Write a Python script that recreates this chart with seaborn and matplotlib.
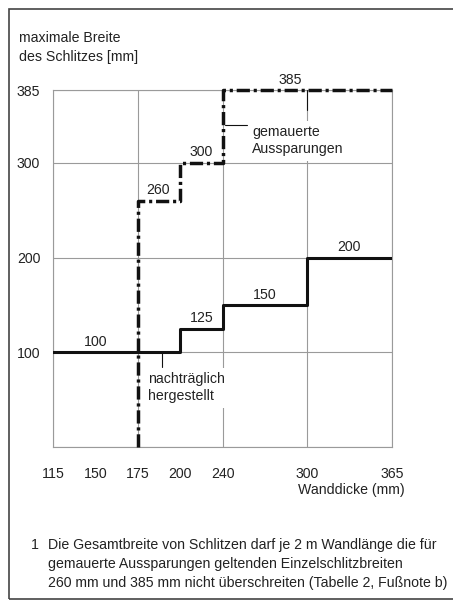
import numpy as np
import pandas as pd
import matplotlib
matplotlib.use("Agg")
import matplotlib.pyplot as plt
import seaborn as sns
from matplotlib.patches import Rectangle

# Wall thickness (x) positions and tick labels
x_ticks_major = [115, 175, 240, 300, 365]
x_ticks_minor = [150, 200]
y_ticks = [0, 100, 200, 300, 385]
y_ticklabels = ["", "100", "200", "300", "385"]

# "nachträglich hergestellt" - subsequently cut slots
cut_wall = [115, 200, 240, 300, 365]
cut_width = [100, 125, 150, 200, 200]

# "gemauerte Aussparungen" - recesses built in masonry
built_wall = [175, 175, 200, 240, 365]
built_width = [0, 260, 300, 385, 385]

# step labels: (x, y, text)
cut_labels = [(150, 100, "100"), (220, 125, "125"), (270, 150, "150"), (332, 200, "200")]
built_labels = [(187, 260, "260"), (220, 300, "300"), (288, 385, "385")]

# the axis is drawn with non-uniform spacing, as in the original
xk = [55, 115, 150, 175, 200, 240, 300, 365, 430]
xp = [-1, 0, 0.5, 1, 1.5, 2, 3, 4, 5]
yk = [-100, 0, 100, 200, 300, 385, 500]
yp = [-1, 0, 1, 2, 3, 3.77, 4.8]

def fx(v):
    return np.interp(v, xk, xp)

def fx_inv(v):
    return np.interp(v, xp, xk)

def fy(v):
    return np.interp(v, yk, yp)

def fy_inv(v):
    return np.interp(v, yp, yk)

sns.set_style("white")
plt.rcParams["font.family"] = ["Liberation Sans", "DejaVu Sans"]
plt.rcParams["font.size"] = 10

W, H = 453, 609
fig = plt.figure(figsize=(W / 100, H / 100), dpi=100)
ax = fig.add_axes([53 / W, 1 - 447 / H, 339 / W, (447 - 90) / H])

ax.set_xscale("function", functions=(fx, fx_inv))
ax.set_yscale("function", functions=(fy, fy_inv))
ax.set_xlim(115, 365)
ax.set_ylim(0, 385)

grid_c = "#9a9a9a"
text_c = "#222222"
line_c = "#111111"

for s in ax.spines.values():
    s.set_color(grid_c)
    s.set_linewidth(0.8)

ax.set_xticks(x_ticks_major, labels=[str(v) for v in x_ticks_major])
ax.set_xticks(x_ticks_minor, labels=[str(v) for v in x_ticks_minor], minor=True)
ax.set_yticks(y_ticks, labels=y_ticklabels)
ax.tick_params(axis="x", which="major", length=3.6, width=0.8, color=grid_c,
               pad=10.5, labelcolor=text_c, labelsize=10.2)
ax.tick_params(axis="x", which="minor", length=0, pad=14.1,
               labelcolor=text_c, labelsize=10.2)
ax.tick_params(axis="y", which="major", length=7.2, width=0.8, color=grid_c,
               pad=2, labelcolor=text_c, labelsize=10.2)
ax.tick_params(axis="y", which="minor", length=0)
ax.grid(True, which="major", color=grid_c, linewidth=0.8)

cut = pd.DataFrame({"Wanddicke": cut_wall, "Breite": cut_width})
built = pd.DataFrame({"Wanddicke": built_wall, "Breite": built_width})

sns.lineplot(data=cut, x="Wanddicke", y="Breite", ax=ax, estimator=None, sort=False,
             drawstyle="steps-post", color=line_c, linewidth=2.2, zorder=4)
sns.lineplot(data=built, x="Wanddicke", y="Breite", ax=ax, estimator=None, sort=False,
             drawstyle="steps-post", color=line_c, linewidth=2.5,
             linestyle=(0, (3.8, 1.1, 0.9, 1.1)), zorder=5, clip_on=False)
ax.set_xlabel("")
ax.set_ylabel("")

for x, y, t in cut_labels + built_labels:
    ax.annotate(t, (x, y), xytext=(0, 7.5), textcoords="offset points",
                ha="center", va="center", color=text_c, fontsize=10.2)

# leader lines and callouts
ax.plot([300, 300], [385, 362], color=line_c, linewidth=0.8, zorder=6)
ax.plot([242, 257], [344, 344], color=line_c, linewidth=0.8, zorder=6)
ax.text(261, 344, "gemauerte\nAussparungen", ha="left", va="top", color=text_c,
        fontsize=10.2, linespacing=1.3, zorder=6,
        bbox=dict(facecolor="white", edgecolor="none", pad=3))
ax.plot([189.5, 189.5], [100, 84], color=line_c, linewidth=0.8, zorder=6)
ax.text(181, 79, "nachträglich\nhergestellt", ha="left", va="top", color=text_c,
        fontsize=10.2, linespacing=1.3, zorder=6,
        bbox=dict(facecolor="white", edgecolor="none", pad=3))

def px(x, y):
    return x / W, 1 - y / H

fig.text(*px(19, 38), "maximale Breite", ha="left", va="center", color=text_c, fontsize=10.2)
fig.text(*px(19, 57), "des Schlitzes [mm]", ha="left", va="center", color=text_c, fontsize=10.2)
fig.text(*px(405, 490), "Wanddicke (mm)", ha="right", va="center", color=text_c, fontsize=10.2)

fig.text(*px(31, 545), "1", ha="left", va="center", color=text_c, fontsize=10.2)
foot = ["Die Gesamtbreite von Schlitzen darf je 2 m Wandlänge die für",
        "gemauerte Aussparungen geltenden Einzelschlitzbreiten",
        "260 mm und 385 mm nicht überschreiten (Tabelle 2, Fußnote b)"]
for i, line in enumerate(foot):
    fig.text(*px(48, 545 + 19 * i), line, ha="left", va="center", color=text_c, fontsize=10.2)

fig.patches.append(Rectangle((9 / W, 1 - 599 / H), (W + 10 - 9) / W, (599 - 9) / H,
                             transform=fig.transFigure, fill=False,
                             edgecolor="#444444", linewidth=1.2))

fig.savefig("out.png", dpi=100)
